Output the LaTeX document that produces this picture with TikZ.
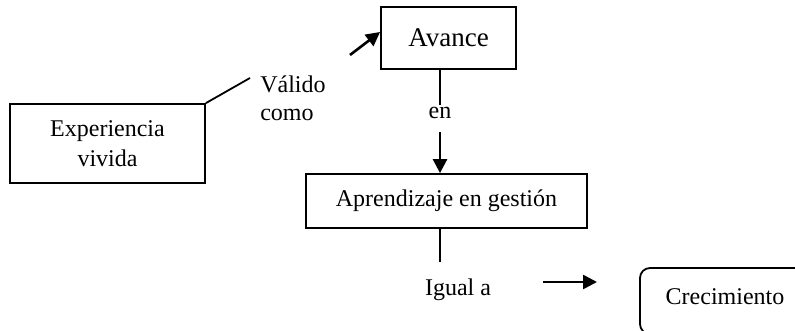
\documentclass[tikz,border=0pt]{standalone}
\usepackage{fontspec}
\setmainfont{Liberation Serif}
\usetikzlibrary{arrows.meta}

\begin{document}
\begin{tikzpicture}[x=1pt, y=-1pt,
    every node/.style={font=\fontsize{24}{28}\selectfont, inner sep=0pt},
    box/.style={draw, line width=1.8pt, align=center},
    arr/.style={line width=2.6pt, -{Triangle[length=14pt,width=14pt]}},
    lnk/.style={line width=1.8pt}]
          \useasboundingbox (0,0) rectangle (795,331);
          \clip (0,0) rectangle (795,331);

          \node[box, minimum width=195pt, minimum height=79pt] (exp) at (107.5,143.5) {Experiencia\\[2pt]vivida};
          \node[box, minimum width=135pt, minimum height=62pt, font=\fontsize{27}{31}\selectfont] (avance) at (448.5,38) {Avance};
          \node[box, minimum width=281pt, minimum height=54pt] (aprend) at (446.5,201) {Aprendizaje en gesti\'on};
          \node[box, rounded corners=10pt, minimum width=170pt, minimum height=66pt, text depth=9pt] (crec) at (725,301) {Crecimiento};

          \node[align=left] (valido) at (293,98) {V\'alido\\como};
          \node (en) at (440,113) {en};
          \node (igual) at (458,290) {Igual a};

          \coordinate (v1) at (250,78);
          \coordinate (v2) at (350,55);
          \coordinate (e1) at (440,105);
          \coordinate (e2) at (440,132);
          \coordinate (i1) at (440,262);
          \coordinate (i2) at (543,282);
          \coordinate (i3) at (597,282);

          \draw[lnk] (exp.north east) -- (v1);
          \draw[arr] (v2) -- ([yshift=6pt]avance.west);
          \draw[lnk] (avance.south -| e1) -- (e1);
          \draw[arr] (e2) -- (aprend.north -| e2);
          \draw[lnk] (aprend.south -| i1) -- (i1);
          \draw[arr] (i2) -- (i3);
      \end{tikzpicture}
\end{document}
